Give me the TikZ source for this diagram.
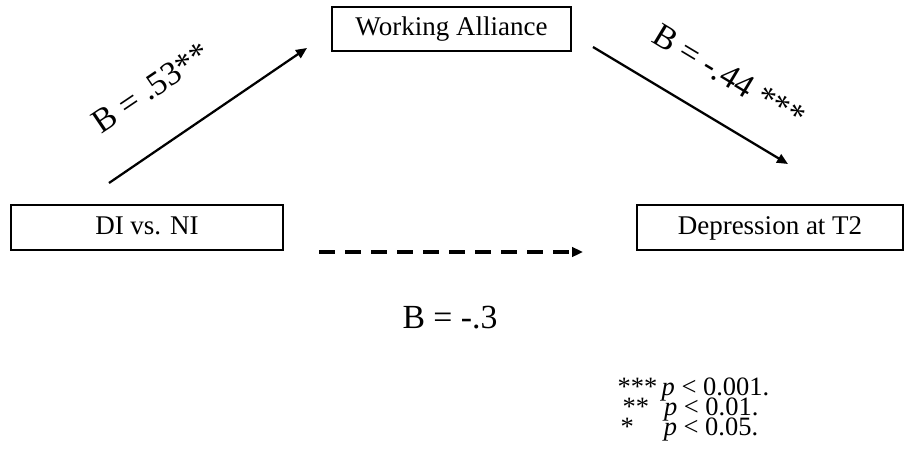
\documentclass[tikz,border=0pt]{standalone}
\usepackage{fontspec}
\setmainfont{Liberation Serif}
\usetikzlibrary{arrows.meta}

\begin{document}
\begin{tikzpicture}[x=0.4pt,y=-0.4pt,
	varbox/.style={draw,line width=0.8pt,inner sep=0pt,minimum height=17.8pt,text height=7.6pt,text depth=2.2pt,font=\fontsize{10.8}{13}\selectfont},
	coef/.style={inner sep=1pt,font=\fontsize{13.5}{16}\selectfont},
	note/.style={anchor=base west,inner sep=0pt,font=\fontsize{10.6}{12}\selectfont},
	effect/.style={line width=0.9pt,-{Triangle[length=4.4pt,width=3.8pt]}},
	direct/.style={effect,line width=1.3pt,dash pattern=on 6.4pt off 4pt}]
	\useasboundingbox (0,0) rectangle (908,467);
	% variables
	\node[varbox,minimum width=95.6pt] (alliance) at (451.5,29) {Working Alliance};
	\node[varbox,minimum width=108.8pt] (dini) at (147,227.5) {DI vs. NI};
	\node[varbox,minimum width=106.4pt] (depress) at (770,227.5) {Depression at T2};
	% ends of the paths
	\coordinate (a1) at (109,183); \coordinate (a2) at (307,48);
	\coordinate (b1) at (593,47);  \coordinate (b2) at (788,164);
	\coordinate (c1) at (319,252); \coordinate (c2) at (583,252);
	\draw[effect] (a1) -- (a2);
	\draw[effect] (b1) -- (b2);
	\draw[direct] (c1) -- (c2);
	% coefficients
	\node[coef,rotate=34] (coefa) at (151,88) {B = .53**};
	\node[coef,rotate=-31] (coefb) at (729,76) {B = -.44 ***};
	\node[coef] (coefc) at (450,318) {B = -.3};
	% significance levels
	\node[note] (note1) at (617,395) {***\,\textit{p} < 0.001.};
	\node[note] (note2) at (622,415) {**\hspace{6pt}\textit{p} < 0.01.};
	\node[note] (note3) at (620,435) {*\hspace{12pt}\textit{p} < 0.05.};
\end{tikzpicture}
\end{document}
